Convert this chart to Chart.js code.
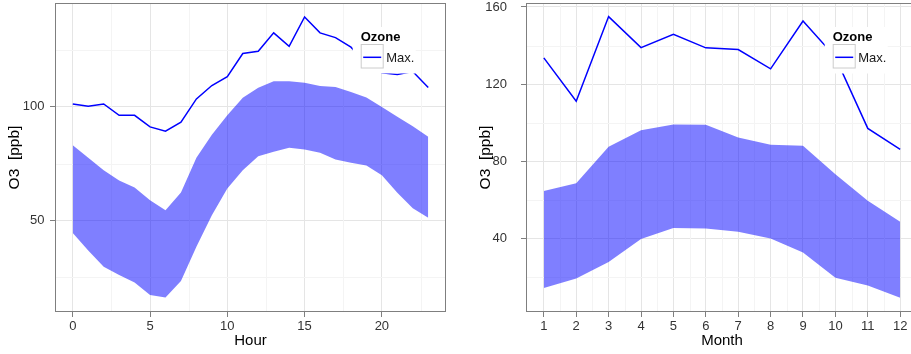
<!DOCTYPE html>
<html>
<head>
<meta charset="utf-8">
<title>Ozone by hour and month</title>
<script src="https://cdn.jsdelivr.net/npm/chart.js@4.4.1/dist/chart.umd.min.js"></script>
<style>
  html, body { margin: 0; padding: 0; background: #fff; overflow: hidden; }
  #wrap { position: relative; width: 911px; height: 354px; overflow: hidden; }
  .panel { position: absolute; top: 0; height: 354px; }
  #hourBox { left: 0; width: 460px; }
  #monthBox { left: 460px; width: 470px; }
</style>
</head>
<body>
<div id="wrap">
  <div class="panel" id="hourBox"><canvas id="hourChart" width="460" height="354"></canvas></div>
  <div class="panel" id="monthBox"><canvas id="monthChart" width="470" height="354"></canvas></div>
</div>
<script>
// ---- data ----
const hours = [0, 1, 2, 3, 4, 5, 6, 7, 8, 9, 10, 11, 12, 13, 14, 15, 16, 17, 18, 19, 20, 21, 22, 23];
const hourMax = [101.3, 100.3, 101.3, 96.3, 96.3, 91.2, 89.3, 93.3, 103.5, 109.4, 113.3, 123.5,
                 124.5, 132.6, 126.7, 139.6, 132.6, 130.5, 126.3, 119.0, 115.0, 114.3, 115.6, 108.5];
const hourUpper = [83.1, 77.6, 72.1, 67.6, 64.5, 58.9, 54.5, 62.3, 77.6, 87.7, 96.3, 104.0,
                   108.4, 111.3, 111.3, 110.6, 109.2, 108.8, 106.6, 104.1, 100.0, 95.6, 91.5, 86.8];
const hourLower = [44.4, 36.7, 29.6, 26.0, 22.7, 17.2, 16.0, 23.3, 38.4, 52.3, 64.1, 72.1,
                   78.3, 80.2, 82.0, 81.2, 79.8, 76.8, 75.4, 74.2, 69.9, 62.2, 55.3, 51.2];
const hourTicks = [0, 5, 10, 15, 20];
const hourMinorTicks = [2.5, 7.5, 12.5, 17.5, 22.5];
const hourYTicks = [50, 100];
const hourYMinorTicks = [25, 75, 125];

const months = [1, 2, 3, 4, 5, 6, 7, 8, 9, 10, 11, 12];
const monthMax = [133.6, 111.1, 155.0, 138.9, 145.8, 138.8, 137.9, 127.9, 152.7, 134.0, 97.0, 86.1];
const monthUpper = [64.5, 68.6, 87.5, 96.1, 99.0, 98.9, 92.3, 88.5, 88.0, 73.3, 59.5, 48.6];
const monthLower = [14.2, 19.2, 27.7, 39.6, 45.3, 45.1, 43.4, 39.9, 32.7, 19.6, 15.6, 9.2];
const monthTicks = months;
const monthMinorTicks = [1.5, 2.5, 3.5, 4.5, 5.5, 6.5, 7.5, 8.5, 9.5, 10.5, 11.5, 12.5];
const monthYTicks = [40, 80, 120, 160];
const monthYMinorTicks = [20, 60, 100, 140];

const FONT = '"Liberation Sans", Arial, Helvetica, sans-serif';

// minor grid, panel border and the little "Ozone" legend (ggplot look)
const ggPanel = {
  id: 'ggPanel',
  beforeDatasetsDraw(chart, args, opts) {
    const { ctx, chartArea: a, scales: { x, y } } = chart;
    ctx.save();
    ctx.strokeStyle = '#f4f4f4';
    ctx.lineWidth = 1;
    ctx.beginPath();
    opts.minorX.forEach(v => {
      const px = Math.round(x.getPixelForValue(v)) + 0.5;
      ctx.moveTo(px, a.top); ctx.lineTo(px, a.bottom);
    });
    opts.minorY.forEach(v => {
      const py = Math.round(y.getPixelForValue(v)) + 0.5;
      ctx.moveTo(a.left, py); ctx.lineTo(a.right, py);
    });
    ctx.stroke();
    ctx.restore();
  },
  afterDatasetsDraw(chart, args, opts) {
    const { ctx, chartArea: a } = chart;
    const lx = a.right - 85.3;
    ctx.save();
    // legend background hides the line behind it
    ctx.fillStyle = '#fff';
    ctx.fillRect(lx - 8, 27, 63, 46.5);

    ctx.fillStyle = '#000';
    ctx.textBaseline = 'alphabetic';
    ctx.font = 'bold 13px ' + FONT;
    ctx.fillText(opts.title, lx, 40.5);

    ctx.strokeStyle = '#cccccc';
    ctx.lineWidth = 1;
    ctx.strokeRect(lx + 0.5, 44.5, 22, 23.5);
    ctx.strokeStyle = '#0000ff';
    ctx.lineWidth = 1.5;
    ctx.beginPath();
    ctx.moveTo(lx + 2.5, 57.3);
    ctx.lineTo(lx + 20.5, 57.3);
    ctx.stroke();

    ctx.fillStyle = '#1a1a1a';
    ctx.font = '13px ' + FONT;
    ctx.fillText(chart.data.datasets[0].label, lx + 25.5, 61.8);

    // panel border
    ctx.strokeStyle = '#7f7f7f';
    ctx.lineWidth = 1;
    ctx.strokeRect(a.left + 0.5, a.top + 0.5, a.right - a.left - 1, a.bottom - a.top - 1);
    ctx.restore();
  }
};

function makeChart(canvasId, cfg) {
  const ctx = document.getElementById(canvasId).getContext('2d');
  const pts = arr => cfg.xs.map((v, i) => ({ x: v, y: arr[i] }));

  return new Chart(ctx, {
    type: 'line',
    data: {
      datasets: [
        {
          label: 'Max.',
          data: pts(cfg.max),
          borderColor: '#0000ff',
          borderWidth: 1.5,
          pointRadius: 0,
          tension: 0,
          fill: false
        },
        {
          label: 'Upper',
          data: pts(cfg.upper),
          borderWidth: 0,
          borderColor: 'rgba(0,0,0,0)',
          backgroundColor: 'rgba(0,0,255,0.5)',
          pointRadius: 0,
          tension: 0,
          fill: '+1'
        },
        {
          label: 'Lower',
          data: pts(cfg.lower),
          borderWidth: 0,
          borderColor: 'rgba(0,0,0,0)',
          pointRadius: 0,
          tension: 0,
          fill: false
        }
      ]
    },
    options: {
      responsive: false,
      animation: false,
      events: [],
      layout: { padding: { top: 3, right: cfg.padRight, left: 0, bottom: 0 } },
      plugins: {
        legend: { display: false },
        tooltip: { enabled: false },
        ggPanel: { minorX: cfg.minorX, minorY: cfg.minorY, title: 'Ozone' }
      },
      scales: {
        x: {
          type: 'linear',
          min: cfg.xMin,
          max: cfg.xMax,
          afterBuildTicks: s => { s.ticks = cfg.xTicks.map(v => ({ value: v })); },
          afterFit: s => { s.height = 42; s.paddingLeft = 0; s.paddingRight = 0; },
          border: { display: false },
          grid: { color: '#e5e5e5', tickColor: '#7f7f7f', tickLength: 5, lineWidth: 1 },
          ticks: { color: '#333', font: { family: FONT, size: 13 }, padding: 2, maxRotation: 0, autoSkip: false },
          title: { display: true, text: cfg.xTitle, color: '#000', font: { family: FONT, size: 15 }, padding: { top: 0, bottom: 4 } }
        },
        y: {
          type: 'linear',
          min: cfg.yMin,
          max: cfg.yMax,
          afterBuildTicks: s => { s.ticks = cfg.yTicks.map(v => ({ value: v })); },
          afterFit: s => { s.width = cfg.yWidth; s.paddingTop = 0; s.paddingBottom = 0; },
          border: { display: false },
          grid: { color: '#e5e5e5', tickColor: '#7f7f7f', tickLength: 5, lineWidth: 1 },
          ticks: { color: '#333', font: { family: FONT, size: 13 }, padding: cfg.yTickPad, autoSkip: false },
          title: { display: true, text: 'O3  [ppb]', color: '#000', font: { family: FONT, size: 15.5 }, padding: { top: cfg.yTitlePad, bottom: 0 } }
        }
      }
    },
    plugins: [ggPanel]
  });
}

makeChart('hourChart', {
  xs: hours, max: hourMax, upper: hourUpper, lower: hourLower,
  xMin: -1.15, xMax: 24.15, xTicks: hourTicks, minorX: hourMinorTicks,
  yMin: 9.66, yMax: 145.75, yTicks: hourYTicks, minorY: hourYMinorTicks,
  xTitle: 'Hour', yWidth: 55, yTickPad: 5.5, yTitlePad: 5.2, padRight: 14
});

makeChart('monthChart', {
  xs: months, max: monthMax, upper: monthUpper, lower: monthLower,
  xMin: 0.45, xMax: 12.55, xTicks: monthTicks, minorX: monthMinorTicks,
  yMin: 1.8, yMax: 162.05, yTicks: monthYTicks, minorY: monthYMinorTicks,
  xTitle: 'Month', yWidth: 66, yTickPad: 14, yTitlePad: 16.7, padRight: 12
});
</script>
</body>
</html>
